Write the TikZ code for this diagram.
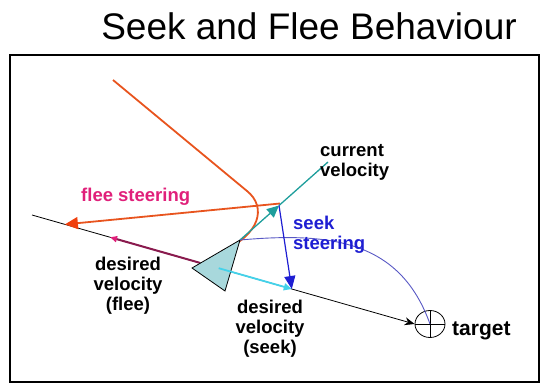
\documentclass[tikz,border=0pt]{standalone}
\usepackage{fontspec}
\setmainfont{Liberation Sans}
\usetikzlibrary{arrows.meta,shapes.geometric,calc}
\definecolor{orng}{HTML}{E8541E}
\definecolor{orngtip}{HTML}{F0400E}
\definecolor{tealc}{HTML}{1E9E9C}
\definecolor{seekblue}{HTML}{1E1ED2}
\definecolor{curveblue}{HTML}{5858C4}
\definecolor{cyanc}{HTML}{44D2EA}
\definecolor{trifill}{HTML}{A8D8DC}
\definecolor{magdark}{HTML}{8A1A4E}
\definecolor{magpink}{HTML}{E0207A}
\begin{document}
\begin{tikzpicture}[x=1pt,y=-1pt,
  lbl/.style={font=\fontsize{18.5}{20}\selectfont\bfseries, inner sep=0pt, align=center},
  thinblack/.style={draw=black, line width=0.8pt}]
\useasboundingbox (0,0) rectangle (541,383);
\node[font=\fontsize{37}{40}\selectfont, anchor=base, inner sep=0pt] (title) at (309,39) {Seek and Flee Behaviour};
\draw[line width=2pt] (10,55) rectangle (539,382);
% key points
\coordinate (L) at (32,215);
\node[ellipse, thinblack, minimum width=30pt, minimum height=27pt, inner sep=0pt] (target) at (430,324) {};
\draw[thinblack] (target.west) -- (target.east);
\draw[thinblack] (target.north) -- (target.south);
\coordinate (A) at (192,268);
\coordinate (B) at (240,240);
\coordinate (C) at (225,291);
\coordinate (V) at (279,205.5);
\coordinate (fs) at (280,203.5);
\coordinate (cv) at (328,162);
\coordinate (fleetip) at ($(L)!0.086!(target.west)$);
\coordinate (magtip) at ($(L)!0.204!(target.west)$);
\coordinate (magstart) at ($(L)!0.439!(target.west)$);
\coordinate (cyanstart) at ($(L)!0.488!(target.west)$);
\coordinate (cyantip) at ($(L)!0.679!(target.west)$);
% long black line
\draw[thinblack, -{Stealth[length=10pt,width=8pt]}] (L) -- (target.west);
% orange curve (path)
\draw[orng, line width=1.8pt] (113,80) -- (247,191) .. controls (267,207) and (260,235) .. (222,251);
% flee steering
\draw[orng, line width=1.8pt, -{Triangle[length=13pt,width=12pt,color=orngtip]}] (fs) -- (fleetip);
% desired velocity flee
\draw[magdark, line width=2pt, -{Triangle[length=7pt,width=6pt,color=magpink]}] (magstart) -- (magtip);
% triangle
\draw[fill=trifill, line width=0.8pt] (A) -- (B) -- (C) -- cycle;
% current velocity
\draw[tealc, line width=1.3pt, -{Triangle[length=12pt,width=11pt]}] (B) -- (V);
\draw[tealc, line width=1.3pt] (V) -- (cv);
% seek curve
\draw[curveblue, line width=0.9pt] (B) .. controls (330,232) and (400,240) .. (target.center);
% desired velocity seek
\draw[cyanc, line width=1.8pt, -{Triangle[length=8pt,width=7pt]}] (cyanstart) -- (cyantip);
% seek steering
\draw[seekblue, line width=1.2pt, -{Triangle[length=13pt,width=11pt]}] (V) -- (cyantip);
% labels (base anchor = baseline of last line)
\node[lbl, align=left, anchor=base west] (lcv) at (320,176) {current\\velocity};
\node[lbl, magpink, anchor=base west] (lfs) at (81,201) {flee steering};
\node[lbl, seekblue, align=left, anchor=base west] (lss) at (293,249) {seek\\steering};
\node[lbl, anchor=base] (ldf) at (128,310) {desired\\velocity\\(flee)};
\node[lbl, anchor=base] (lds) at (270,353) {desired\\velocity\\(seek)};
\node[lbl, font=\fontsize{21}{22}\selectfont\bfseries, anchor=base west] (lt) at (452,335) {target};
\end{tikzpicture}
\end{document}
